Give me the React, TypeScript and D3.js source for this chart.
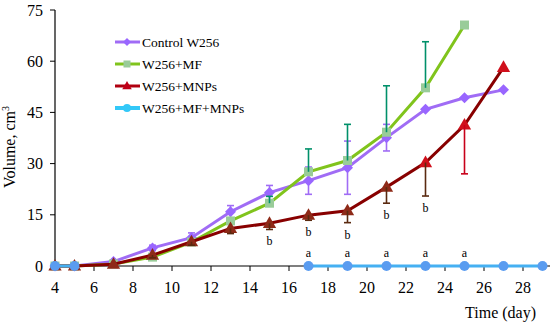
import React from "react";
import * as d3 from "d3";

const days = [4, 5, 7, 9, 11, 13, 15, 17, 19, 21, 23, 25, 27, 29];
const controlVals = [0, 0, 1.3, 5.3, 8.3, 15.9, 21.5, 25.0, 28.8, 37.6, 45.9, 49.3, 51.6, null];
const controlErr = [0, 0, 0.5, 0.8, 1.4, 1.8, 2.1, 4.0, 7.8, 3.9, 0, 0, 0, null];
const mfVals = [0, 0, 0.6, 2.6, 7.0, 13.2, 18.4, 27.6, 30.9, 39.2, 52.2, 70.6, null, null];
const mfErr = [0, 0, 0, 0, 0, 0, 2.0, 6.7, 10.6, 13.6, 13.5, 0, null, null];
const mnpVals = [0, 0, 0.5, 3.2, 7.1, 11.0, 12.5, 14.9, 16.2, 23.1, 30.3, 41.3, 58.2, null];
const mnpErr = [0, 0, 0, 0.8, 1.0, 1.5, 1.8, 1.5, 3.5, 4.7, 9.8, 14.3, 0, null];
const mfMnpVals = [0, 0, null, null, null, null, null, 0, 0, 0, 0, 0, 0, 0];

const bLetterDays = [15, 17, 19, 21, 23];
const aLetterDays = [17, 19, 21, 23, 25];

const xTicks = [4, 6, 8, 10, 12, 14, 16, 18, 20, 22, 24, 26, 28];
const yTicks = [0, 15, 30, 45, 60, 75];

const legendLabels = ["Control W256", "W256+MF", "W256+MNPs", "W256+MF+MNPs"];

const W = 550;
const H = 327;
const FONT = "'Liberation Serif', 'Times New Roman', serif";

const x = d3.scaleLinear().domain([4, 29]).range([55, 542.5]);
const y = d3.scaleLinear().domain([0, 75]).range([266, 10]);

const C_PURPLE = "#a06cf5";
const C_PURPLE_M = "#9966ff";
const C_GREEN = "#80c41c";
const C_GREEN_M = "#99cc99";
const C_GREEN_E = "#00906a";
const C_RED_L = "#880000";
const C_CYAN = "#45b0f2";
const C_CYAN_M = "#5a9cf0";

type Pt = { d: number; v: number | null; e?: number | null };

function pts(vals: (number | null)[], errs?: (number | null)[]): Pt[] {
  return days.map((d, i) => ({ d, v: vals[i], e: errs ? errs[i] : 0 }));
}

const lineGen = d3
  .line<Pt>()
  .defined((p) => p.v !== null)
  .x((p) => x(p.d))
  .y((p) => y(p.v as number));

function diamond(cx: number, cy: number, r: number) {
  return `M${cx},${cy - r}L${cx + r},${cy}L${cx},${cy + r}L${cx - r},${cy}Z`;
}
function triangle(cx: number, cy: number, r: number) {
  return `M${cx},${cy - r}L${cx + r * 0.95},${cy + r * 0.65}L${cx - r * 0.95},${cy + r * 0.65}Z`;
}

function ErrBars({
  data,
  color,
  up,
  down,
}: {
  data: Pt[];
  color: (p: Pt) => string;
  up: boolean;
  down: boolean;
}) {
  return (
    <g>
      {data
        .filter((p) => p.v !== null && p.e && (p.e as number) > 0)
        .map((p, i) => {
          const cx = x(p.d);
          const v = p.v as number;
          const e = p.e as number;
          const y1 = up ? y(v + e) : y(v);
          const y2 = down ? y(Math.max(0, v - e)) : y(v);
          const c = color(p);
          return (
            <g key={i} stroke={c} strokeWidth={1.6}>
              <line x1={cx} x2={cx} y1={y1} y2={y2} />
              {up && <line x1={cx - 3.5} x2={cx + 3.5} y1={y1} y2={y1} />}
              {down && <line x1={cx - 3.5} x2={cx + 3.5} y1={y2} y2={y2} />}
            </g>
          );
        })}
    </g>
  );
}

export default function App() {
  const control = pts(controlVals, controlErr);
  const mf = pts(mfVals, mfErr);
  const mnp = pts(mnpVals, mnpErr);
  const mfMnp = pts(mfMnpVals);

  const mnpMarker = (p: Pt) => (p.d >= 23 ? "#d0101c" : "#8e2a18");
  const mnpErrColor = (p: Pt) => (p.d >= 25 ? "#c8001a" : "#5a2a10");

  const legendY = [42, 64, 86, 108];

  return (
    <svg
      width={W}
      height={H}
      style={{ position: "absolute", left: 0, top: 0, background: "#fff" }}
      fontFamily={FONT}
    >
      <rect width={W} height={H} fill="#fff" />

      {/* axes */}
      <line x1={55} x2={55} y1={10} y2={266} stroke="#000" strokeWidth={1.2} />
      <line x1={55} x2={550} y1={266} y2={266} stroke="#000" strokeWidth={1.2} />
      {yTicks.map((t) => (
        <g key={t}>
          <line x1={50} x2={55} y1={y(t)} y2={y(t)} stroke="#000" strokeWidth={1} />
          <text x={43} y={y(t) + 5.5} textAnchor="end" fontSize={16} fill="#000">
            {t}
          </text>
        </g>
      ))}
      {xTicks.map((t) => (
        <g key={t}>
          <line x1={x(t)} x2={x(t)} y1={266} y2={271} stroke="#000" strokeWidth={1} />
          <text x={x(t)} y={293} textAnchor="middle" fontSize={16} fill="#000">
            {t}
          </text>
        </g>
      ))}
      <text
        transform={`translate(15,147) rotate(-90)`}
        textAnchor="middle"
        fontSize={16}
        fill="#000"
      >
        Volume, cm
        <tspan fontSize={10} dy={-6}>
          3
        </tspan>
      </text>
      <text x={536} y={318} textAnchor="end" fontSize={16} fill="#000">
        Time (day)
      </text>

      {/* Control */}
      <ErrBars data={control} color={() => C_PURPLE} up={true} down={true} />
      <path d={lineGen(control) || ""} fill="none" stroke={C_PURPLE} strokeWidth={3} />
      {control
        .filter((p) => p.v !== null)
        .map((p, i) => (
          <path key={i} d={diamond(x(p.d), y(p.v as number), 5.5)} fill={C_PURPLE_M} />
        ))}

      {/* MF */}
      <path d={lineGen(mf) || ""} fill="none" stroke={C_GREEN} strokeWidth={3} />
      {mf
        .filter((p) => p.v !== null)
        .map((p, i) => (
          <rect
            key={i}
            x={x(p.d) - 4.5}
            y={y(p.v as number) - 4.5}
            width={9}
            height={9}
            fill={C_GREEN_M}
          />
        ))}
      <ErrBars data={mf} color={() => C_GREEN_E} up={true} down={false} />

      {/* MNPs */}
      <path d={lineGen(mnp) || ""} fill="none" stroke={C_RED_L} strokeWidth={3} />
      {mnp
        .filter((p) => p.v !== null)
        .map((p, i) => (
          <path key={i} d={triangle(x(p.d), y(p.v as number), 7)} fill={mnpMarker(p)} />
        ))}
      <ErrBars data={mnp} color={mnpErrColor} up={false} down={true} />

      {/* MF+MNPs */}
      <path d={lineGen(mfMnp) || ""} fill="none" stroke={C_CYAN} strokeWidth={3} />
      {mfMnp
        .filter((p) => p.v !== null)
        .map((p, i) => (
          <circle key={i} cx={x(p.d)} cy={y(p.v as number)} r={5} fill={C_CYAN_M} />
        ))}

      {/* significance letters */}
      {bLetterDays.map((d) => {
        const i = days.indexOf(d);
        const low = (mnpVals[i] as number) - (mnpErr[i] as number);
        return (
          <text key={d} x={x(d)} y={y(low) + 16} textAnchor="middle" fontSize={12} fill="#000">
            b
          </text>
        );
      })}
      {aLetterDays.map((d) => (
        <text key={d} x={x(d)} y={y(0) - 9} textAnchor="middle" fontSize={12} fill="#000">
          a
        </text>
      ))}

      {/* legend */}
      {legendLabels.map((lab, i) => {
        const ly = legendY[i];
        const colors = [C_PURPLE, C_GREEN, "#b00010", "#33c8f8"];
        const cx = 127;
        let marker: React.ReactNode = null;
        if (i === 0) marker = <path d={diamond(cx, ly, 4)} fill={C_PURPLE_M} />;
        if (i === 1) marker = <rect x={cx - 3.5} y={ly - 3.5} width={7} height={7} fill={C_GREEN_M} />;
        if (i === 2) marker = <path d={triangle(cx, ly, 5)} fill="#c00018" />;
        if (i === 3) marker = <circle cx={cx} cy={ly} r={4} fill="#33c8f8" />;
        return (
          <g key={lab}>
            <line x1={115} x2={140} y1={ly} y2={ly} stroke={colors[i]} strokeWidth={i === 3 ? 4 : 3} />
            {marker}
            <text x={142} y={ly + 4.5} fontSize={13.5} fill="#000">
              {lab}
            </text>
          </g>
        );
      })}
    </svg>
  );
}
